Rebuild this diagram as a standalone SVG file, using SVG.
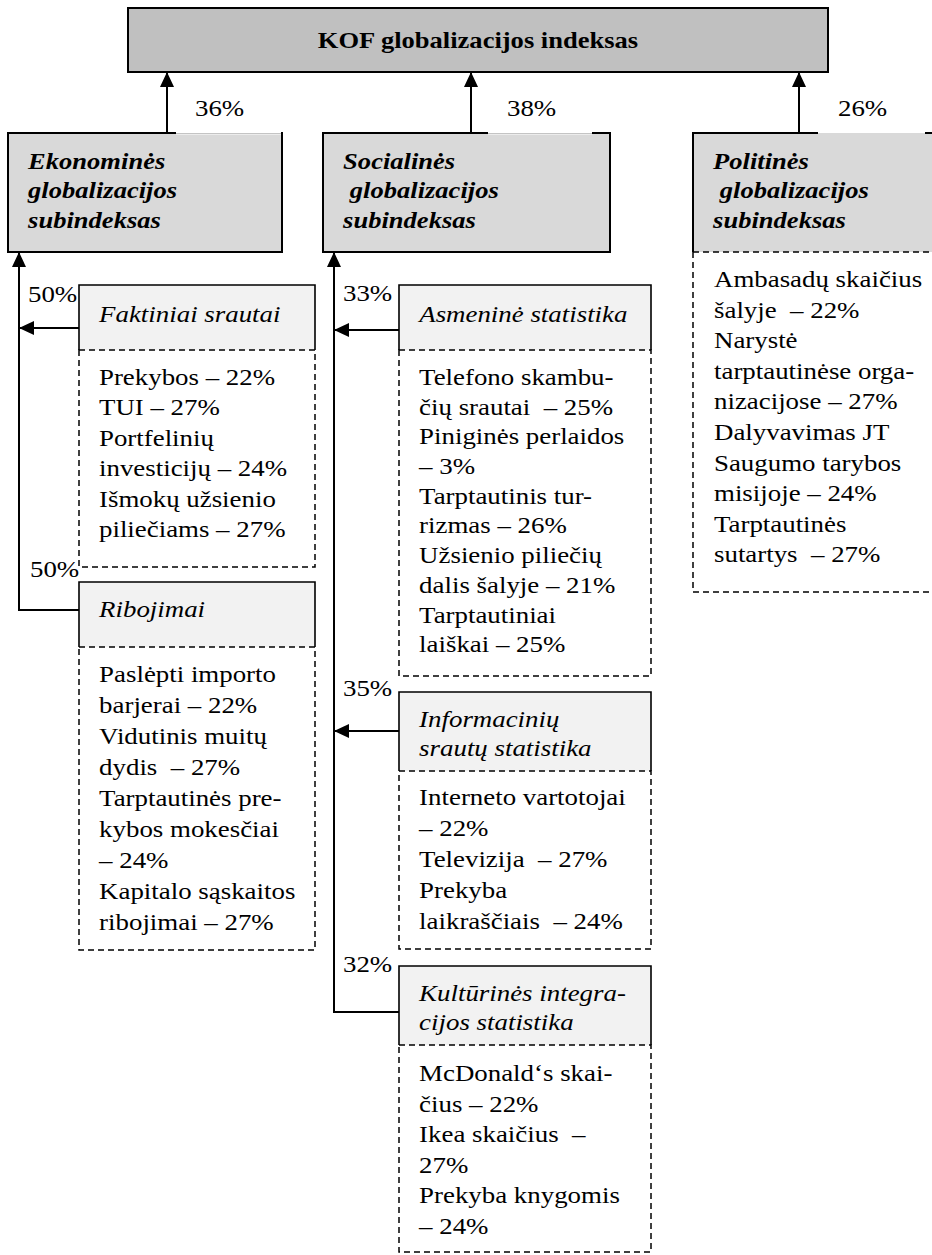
<svg xmlns="http://www.w3.org/2000/svg" width="932" height="1255" viewBox="0 0 932 1255" font-family="'Liberation Serif', 'Times New Roman', Tinos, 'DejaVu Serif', serif">
<defs>
<style>
text { font-family: "Liberation Serif", "Times New Roman", Tinos, "DejaVu Serif", serif; font-size: 24px; fill: #000; }
.s { transform-box: fill-box; transform-origin: left center; transform: scaleX(1.12); }
.c { transform-box: fill-box; transform-origin: center; transform: scaleX(1.12); }
.title { font-weight: bold; font-size: 23.7px; }
.sub { font-weight: bold; font-style: italic; font-size: 23.7px; }
.hd { font-style: italic; }
.bx { stroke: #000; stroke-width: 2; }
.ln { fill: none; stroke: #000; stroke-width: 2; }
.thin { fill: none; stroke: #000; stroke-width: 1.6; }
.dash { fill: none; stroke: #000; stroke-width: 1.5; stroke-dasharray: 6 4; }
.conn { fill: none; stroke: #000; stroke-width: 2; }
</style>
<marker id="ah" viewBox="0 0 15 14" refX="14" refY="7" markerWidth="15" markerHeight="14" markerUnits="userSpaceOnUse" orient="auto">
<path d="M0,0 L15,7 L0,14 Z" fill="#000"/>
</marker>
</defs>
<rect width="932" height="1255" fill="#fff"/>

<g id="kof">
<rect x="128" y="8" width="700" height="64" fill="#c0c0c0" class="bx"/>
<text class="title c" x="478" y="48" text-anchor="middle">KOF globalizacijos indeksas</text>
</g>

<g id="econ">
<rect x="8" y="133" width="274" height="119" fill="#d9d9d9" class="bx"/>
<line x1="176" y1="133" x2="281" y2="133" stroke="#fff" stroke-width="3"/>
<line x1="176" y1="133.5" x2="281" y2="133.5" stroke="#c4c4c4" stroke-width="1"/>
<text class="sub s" x="28"><tspan x="28" y="169">Ekonominės</tspan><tspan x="28" y="198">globalizacijos</tspan><tspan x="28" y="228">subindeksas</tspan></text>
<text class="s" x="195" y="116">36%</text>
</g>

<g id="social">
<rect x="323" y="133" width="287" height="119" fill="#d9d9d9" class="bx"/>
<line x1="488" y1="133" x2="592" y2="133" stroke="#fff" stroke-width="3"/>
<line x1="488" y1="133.5" x2="592" y2="133.5" stroke="#c4c4c4" stroke-width="1"/>
<text class="sub s" x="343"><tspan x="343" y="169">Socialinės</tspan><tspan x="349" y="198">globalizacijos</tspan><tspan x="343" y="228">subindeksas</tspan></text>
<text class="s" x="507" y="116">38%</text>
</g>

<g id="political">
<rect x="693" y="133" width="250" height="119" fill="#d9d9d9"/>
<path class="ln" d="M693,252 V133 H818 M925,133 H940"/>
<path class="dash" d="M693,252 H940 M693,252 V592 H940"/>
<text class="sub s" x="713"><tspan x="713" y="169">Politinės</tspan><tspan x="719" y="198">globalizacijos</tspan><tspan x="713" y="228">subindeksas</tspan></text>
<text class="s" x="838" y="116">26%</text>
<text class="s" x="714"><tspan x="714" y="287">Ambasadų skaičius</tspan><tspan x="714" y="317.6">šalyje&#160; – 22%</tspan><tspan x="714" y="348.2">Narystė</tspan><tspan x="714" y="378.8">tarptautinėse orga-</tspan><tspan x="714" y="409.4">nizacijose – 27%</tspan><tspan x="714" y="440">Dalyvavimas JT</tspan><tspan x="714" y="470.6">Saugumo tarybos</tspan><tspan x="714" y="501.2">misijoje – 24%</tspan><tspan x="714" y="531.8">Tarptautinės</tspan><tspan x="714" y="562.4">sutartys&#160; – 27%</tspan></text>
</g>

<g id="faktiniai">
<rect x="79" y="285" width="236" height="65" fill="#f2f2f2"/>
<path class="thin" d="M79,350 V285 H315 V350"/>
<rect x="79" y="350" width="236" height="217" class="dash"/>
<text class="hd s" x="99" y="322">Faktiniai srautai</text>
<text class="s" x="99"><tspan x="99" y="385">Prekybos – 22%</tspan><tspan x="99" y="415.4">TUI – 27%</tspan><tspan x="99" y="445.8">Portfelinių</tspan><tspan x="99" y="476.2">investicijų – 24%</tspan><tspan x="99" y="506.6">Išmokų užsienio</tspan><tspan x="99" y="537">piliečiams – 27%</tspan></text>
<text class="s" x="28" y="302">50%</text>
</g>

<g id="ribojimai">
<rect x="79" y="582" width="236" height="65" fill="#f2f2f2"/>
<path class="thin" d="M79,647 V582 H315 V647"/>
<rect x="79" y="647" width="236" height="303" class="dash"/>
<text class="hd s" x="99" y="617">Ribojimai</text>
<text class="s" x="99"><tspan x="99" y="682">Paslėpti importo</tspan><tspan x="99" y="713">barjerai – 22%</tspan><tspan x="99" y="744">Vidutinis muitų</tspan><tspan x="99" y="775">dydis&#160; – 27%</tspan><tspan x="99" y="806">Tarptautinės pre-</tspan><tspan x="99" y="837">kybos mokesčiai</tspan><tspan x="99" y="868">– 24%</tspan><tspan x="99" y="899">Kapitalo sąskaitos</tspan><tspan x="99" y="930">ribojimai – 27%</tspan></text>
<text class="s" x="30" y="577">50%</text>
</g>

<g id="asmenine">
<rect x="399" y="285" width="252" height="65" fill="#f2f2f2"/>
<path class="thin" d="M399,350 V285 H651 V350"/>
<rect x="399" y="350" width="252" height="326" class="dash"/>
<text class="hd s" x="419" y="322">Asmeninė statistika</text>
<text class="s" x="419"><tspan x="419" y="385">Telefono skambu-</tspan><tspan x="419" y="414.7">čių srautai&#160; – 25%</tspan><tspan x="419" y="444.4">Piniginės perlaidos</tspan><tspan x="419" y="474.1">– 3%</tspan><tspan x="419" y="503.8">Tarptautinis tur-</tspan><tspan x="419" y="533.5">rizmas – 26%</tspan><tspan x="419" y="563.2">Užsienio piliečių</tspan><tspan x="419" y="592.9">dalis šalyje – 21%</tspan><tspan x="419" y="622.6">Tarptautiniai</tspan><tspan x="419" y="652.3">laiškai – 25%</tspan></text>
<text class="s" x="343" y="301">33%</text>
</g>

<g id="informaciniu">
<rect x="399" y="692" width="252" height="79" fill="#f2f2f2"/>
<path class="thin" d="M399,771 V692 H651 V771"/>
<rect x="399" y="771" width="252" height="178" class="dash"/>
<text class="hd s" x="419"><tspan x="419" y="727">Informacinių</tspan><tspan x="419" y="756">srautų statistika</tspan></text>
<text class="s" x="419"><tspan x="419" y="805">Interneto vartotojai</tspan><tspan x="419" y="836">– 22%</tspan><tspan x="419" y="867">Televizija&#160; – 27%</tspan><tspan x="419" y="898">Prekyba</tspan><tspan x="419" y="929">laikraščiais&#160; – 24%</tspan></text>
<text class="s" x="343" y="696">35%</text>
</g>

<g id="kulturines">
<rect x="399" y="966" width="252" height="79" fill="#f2f2f2"/>
<path class="thin" d="M399,1045 V966 H651 V1045"/>
<rect x="399" y="1045" width="252" height="207" class="dash"/>
<text class="hd s" x="419"><tspan x="419" y="1001">Kultūrinės integra-</tspan><tspan x="419" y="1030">cijos statistika</tspan></text>
<text class="s" x="419"><tspan x="419" y="1081">McDonald‘s skai-</tspan><tspan x="419" y="1111.6">čius – 22%</tspan><tspan x="419" y="1142.2">Ikea skaičius&#160; –</tspan><tspan x="419" y="1172.8">27%</tspan><tspan x="419" y="1203.4">Prekyba knygomis</tspan><tspan x="419" y="1234">– 24%</tspan></text>
<text class="s" x="343" y="972">32%</text>
</g>

<g id="connectors">
<path class="conn" d="M167,133 V73" marker-end="url(#ah)"/>
<path class="conn" d="M471,133 V73" marker-end="url(#ah)"/>
<path class="conn" d="M799,133 V73" marker-end="url(#ah)"/>
<path class="conn" d="M79,610 H19 V253" marker-end="url(#ah)"/>
<path class="conn" d="M79,328 H20" marker-end="url(#ah)"/>
<path class="conn" d="M399,1012 H334 V253" marker-end="url(#ah)"/>
<path class="conn" d="M399,330 H335" marker-end="url(#ah)"/>
<path class="conn" d="M399,731 H335" marker-end="url(#ah)"/>
</g>
</svg>
